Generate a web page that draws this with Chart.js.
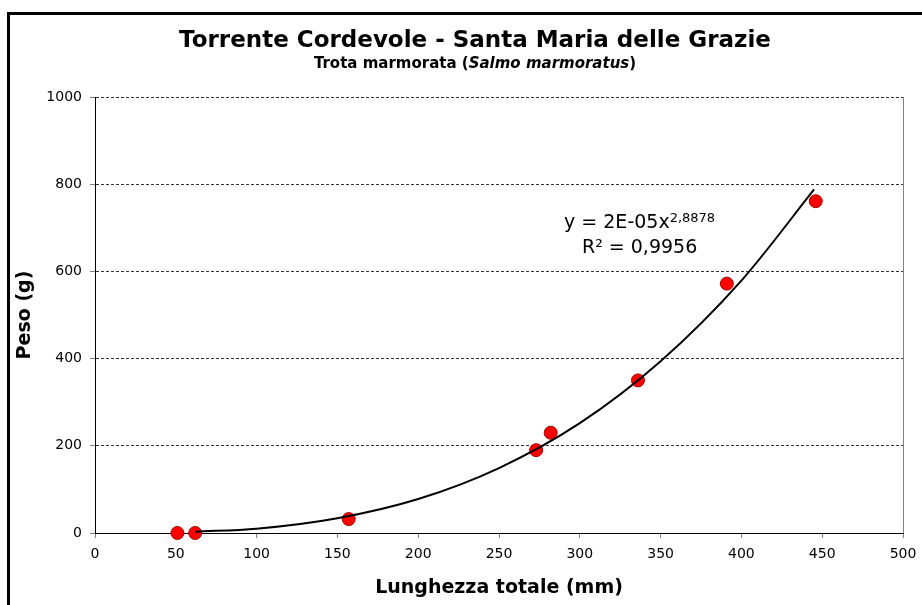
<!DOCTYPE html>
<html lang="it">
<head>
<meta charset="utf-8">
<title>Torrente Cordevole - Santa Maria delle Grazie</title>
<script src="https://cdn.jsdelivr.net/npm/chart.js@4.4.1/dist/chart.umd.min.js"></script>
<style>
    html, body { margin: 0; padding: 0; background: #fff; overflow: hidden; }
    #contenitore { position: relative; width: 922px; height: 605px; overflow: hidden; }
    #cornice { position: absolute; left: 7px; top: 12px; width: 940px; height: 640px; border: 3px solid #000; pointer-events: none; box-sizing: border-box; }
    canvas { position: absolute; left: 0; top: 0; }
</style>
</head>
<body>
<div id="contenitore">
    <canvas id="grafico1" width="922" height="605"></canvas>
    <div id="cornice"></div>
</div>
<script>
// Dati
const lunghezze = [51, 62, 157, 273, 282, 336, 391, 446];
const pesi = [0, 0, 32, 190, 230, 350, 572, 761];

// Linea di tendenza (potenza)
const tendenzaX = [62, 100, 150, 200, 250, 300, 350, 400, 445];
const tendenzaY = [3, 10, 34, 78, 149, 252, 394, 579, 788];

const ticksX = [0, 50, 100, 150, 200, 250, 300, 350, 400, 450, 500];
const ticksY = [0, 200, 400, 600, 800, 1000];

const titolo = 'Torrente Cordevole - Santa Maria delle Grazie';
const sottotitolo = ['Trota marmorata (', 'Salmo marmoratus', ')'];
const equazione = ['y = 2E-05x', '2,8878'];
const erreQuadro = 'R² = 0,9956';

const FONT = "'DejaVu Sans', Verdana, sans-serif";

Chart.defaults.font.family = FONT;
Chart.defaults.color = '#000';

const puntiDati = lunghezze.map((x, i) => ({ x: x, y: pesi[i] }));
const puntiTendenza = tendenzaX.map((x, i) => ({ x: x, y: tendenzaY[i] }));

// Titolo e sottotitolo (sottotitolo con parte in corsivo)
const intestazione = {
    id: 'intestazione',
    afterDraw(chart) {
        const ctx = chart.ctx;
        const cx = 475;
        ctx.save();
        ctx.fillStyle = '#000';
        ctx.textBaseline = 'alphabetic';
        ctx.textAlign = 'center';
        ctx.font = 'bold 23px ' + FONT;
        ctx.fillText(titolo, cx, 47);

        const fonts = ['bold 15px ' + FONT, 'italic bold 15px ' + FONT, 'bold 15px ' + FONT];
        let larghezza = 0;
        const misure = sottotitolo.map((t, i) => {
            ctx.font = fonts[i];
            const w = ctx.measureText(t).width;
            larghezza += w;
            return w;
        });
        let x = cx - larghezza / 2;
        ctx.textAlign = 'left';
        sottotitolo.forEach((t, i) => {
            ctx.font = fonts[i];
            ctx.fillText(t, x, 68);
            x += misure[i];
        });
        ctx.restore();
    }
};

// Bordo destro grigio dell'area del grafico
const bordoArea = {
    id: 'bordoArea',
    beforeDatasetsDraw(chart) {
        const { ctx, chartArea } = chart;
        ctx.save();
        ctx.strokeStyle = '#808080';
        ctx.lineWidth = 1;
        ctx.beginPath();
        ctx.moveTo(Math.round(chartArea.right) + 0.5, chartArea.top);
        ctx.lineTo(Math.round(chartArea.right) + 0.5, chartArea.bottom);
        ctx.stroke();
        ctx.restore();
    }
};

// Equazione della linea di tendenza
const etichettaTendenza = {
    id: 'etichettaTendenza',
    afterDraw(chart) {
        const { ctx, scales } = chart;
        const cx = scales.x.getPixelForValue(337);
        const y1 = scales.y.getPixelForValue(699);
        const y2 = scales.y.getPixelForValue(642);
        ctx.save();
        ctx.fillStyle = '#000';
        ctx.textBaseline = 'alphabetic';
        ctx.textAlign = 'left';

        ctx.font = '19px ' + FONT;
        const w1 = ctx.measureText(equazione[0]).width;
        ctx.font = '13px ' + FONT;
        const w2 = ctx.measureText(equazione[1]).width;
        let x = cx - (w1 + w2) / 2;
        ctx.font = '19px ' + FONT;
        ctx.fillText(equazione[0], x, y1);
        ctx.font = '13px ' + FONT;
        ctx.fillText(equazione[1], x + w1, y1 - 6);

        ctx.font = '19px ' + FONT;
        ctx.textAlign = 'center';
        ctx.fillText(erreQuadro, cx, y2);
        ctx.restore();
    }
};

const grafico1 = document.getElementById('grafico1').getContext('2d');

window.graficaPeso = new Chart(grafico1, {
    type: 'scatter',
    data: {
        datasets: [
            {
                label: 'Potenza',
                data: puntiTendenza,
                showLine: true,
                borderColor: '#000',
                borderWidth: 2,
                pointRadius: 0,
                cubicInterpolationMode: 'monotone',
                clip: false
            },
            {
                label: 'Peso',
                data: puntiDati,
                backgroundColor: '#ff0000',
                borderColor: '#a00000',
                borderWidth: 1,
                pointRadius: 6.5,
                clip: false
            }
        ]
    },
    options: {
        responsive: false,
        animation: false,
        events: [],
        layout: {
            padding: { top: 97, right: 19, bottom: 0, left: 0 }
        },
        plugins: {
            legend: { display: false },
            tooltip: { enabled: false },
            title: { display: false }
        },
        scales: {
            x: {
                type: 'linear',
                min: 0,
                max: 500,
                afterBuildTicks: (scale) => { scale.ticks = ticksX.map(v => ({ value: v })); },
                afterFit: (scale) => { scale.height = 72; },
                ticks: {
                    font: { size: 14, lineHeight: 1.6 },
                    color: '#000',
                    padding: 5,
                    maxRotation: 0,
                    callback: (v) => String(v)
                },
                grid: {
                    drawOnChartArea: false,
                    drawTicks: true,
                    tickLength: 5,
                    tickColor: '#808080'
                },
                border: { display: true, color: '#000', width: 1 },
                title: {
                    display: true,
                    text: 'Lunghezza totale (mm)',
                    font: { size: 19, weight: 'bold' },
                    color: '#000',
                    padding: { top: 0, bottom: 6 }
                }
            },
            y: {
                type: 'linear',
                min: 0,
                max: 1000,
                afterBuildTicks: (scale) => { scale.ticks = ticksY.map(v => ({ value: v })); },
                afterFit: (scale) => { scale.width = 95; },
                ticks: {
                    font: { size: 14 },
                    color: '#000',
                    padding: 8,
                    callback: (v) => String(v)
                },
                grid: {
                    color: '#333',
                    lineWidth: 1,
                    drawTicks: true,
                    tickLength: 5,
                    tickColor: '#808080',
                    tickBorderDash: []
                },
                border: { display: true, color: '#000', width: 1, dash: [3, 2] },
                title: {
                    display: true,
                    text: 'Peso (g)',
                    font: { size: 19, weight: 'bold' },
                    color: '#000',
                    padding: { top: 14, bottom: 0 }
                }
            }
        }
    },
    plugins: [intestazione, bordoArea, etichettaTendenza]
});
</script>
</body>
</html>
